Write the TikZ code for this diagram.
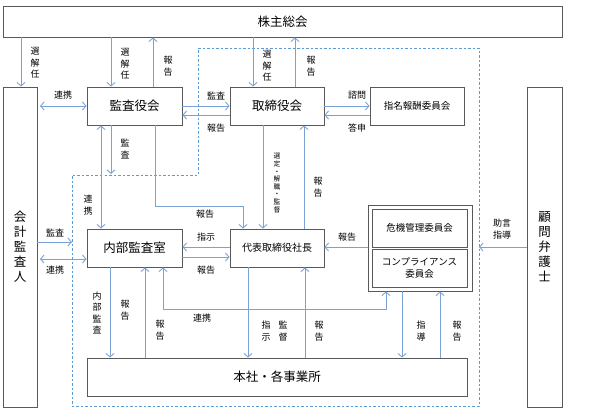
\documentclass[tikz,border=0pt]{standalone}
\usepackage{fontspec}
\setmainfont{Noto Sans CJK JP}
\usetikzlibrary{arrows.meta}
\definecolor{boxc}{HTML}{595959}
\definecolor{arrc}{HTML}{7BA2D4}
\definecolor{dashc}{HTML}{5B9BD5}
\tikzset{
  boxn/.style={draw=boxc, line width=0.9pt, rectangle, inner sep=0pt, font=\fontsize{12.5}{14}\selectfont},
  arr/.style={draw=arrc, line width=0.9pt, -{Straight Barb[length=3.5pt,width=8pt]}},
  darr/.style={draw=arrc, line width=0.9pt, {Straight Barb[length=3.5pt,width=8pt]}-{Straight Barb[length=3.5pt,width=8pt]}},
  lbl/.style={inner sep=0pt, align=center, font=\fontsize{9}{11.5}\selectfont},
  slbl/.style={inner sep=0pt, align=center, font=\fontsize{6.8}{7.6}\selectfont},
}
\begin{document}
\begin{tikzpicture}[x=1pt,y=-1pt]
\useasboundingbox[fill=white] (0,0) rectangle (599,413);
% dashed region
\draw[dashc, line width=0.8pt, dash pattern=on 2.5pt off 2pt] (198,48) -- (479,48) -- (479,406) -- (72,406) -- (72,175) -- (198,175) -- cycle;
% boxes
\node[boxn, minimum width=559pt, minimum height=31pt] (kabu) at (282.5,21.5) {株主総会};
\node[boxn, minimum width=34pt, minimum height=320pt, align=center, font=\fontsize{12.5}{15}\selectfont] (kaikei) at (20,247) {会\\計\\監\\査\\人};
\node[boxn, minimum width=95pt, minimum height=38pt] (kansa) at (134.5,106) {監査役会};
\node[boxn, minimum width=94pt, minimum height=38pt] (tori) at (277,106) {取締役会};
\node[boxn, minimum width=94pt, minimum height=38pt, font=\fontsize{9.5}{11}\selectfont] (shimei) at (417,106) {指名報酬委員会};
\node[boxn, minimum width=35pt, minimum height=320pt, align=center, font=\fontsize{12.5}{15}\selectfont] (komon) at (544.5,247) {顧\\問\\弁\\護\\士};
\node[boxn, minimum width=95pt, minimum height=38pt] (naibu) at (134.5,248) {内部監査室};
\node[boxn, minimum width=94pt, minimum height=38pt, font=\fontsize{10}{11}\selectfont] (shacho) at (277,248) {代表取締役社長};
\node[boxn, minimum width=104pt, minimum height=86pt] (iinkai) at (420,248) {};
\node[boxn, minimum width=95pt, minimum height=38pt, font=\fontsize{9.5}{11}\selectfont] (kiki) at (419.5,228) {危機管理委員会};
\node[boxn, minimum width=95pt, minimum height=38pt, align=center, font=\fontsize{9.5}{12.5}\selectfont] (comp) at (419.5,268) {コンプライアンス\\委員会};
\node[boxn, minimum width=380pt, minimum height=38pt] (honsha) at (277,377) {本社・各事業所};
% free ends on the dashed line
\coordinate (d1) at (111,174);
\coordinate (d2) at (72,242);
\coordinate (d3) at (479,247);
% arrows top
\draw[arr] (kabu.south -| 21,0) -- (kaikei.north -| 21,0);
\node[lbl] (l1) at (35,63) {選\\解\\任};
\draw[arr] (kabu.south -| 111,0) -- (kansa.north -| 111,0);
\node[lbl] (l2) at (125,64) {選\\解\\任};
\draw[arr] (kansa.north -| 153,0) -- (kabu.south -| 153,0);
\node[lbl] (l3) at (168,66) {報\\告};
\draw[darr] (40,106) -- (kansa.west |- 0,106);
\node[lbl] (l4) at (63,95) {連携};
\draw[arr] (kansa.east |- 0,106) -- (tori.west |- 0,106);
\node[lbl] (l5) at (216,96) {監査};
\draw[arr] (tori.west |- 0,115) -- (kansa.east |- 0,115);
\node[lbl] (l6) at (216,128) {報告};
\draw[arr] (kabu.south -| 253,0) -- (tori.north -| 253,0);
\node[lbl] (l7) at (267,66) {選\\解\\任};
\draw[arr] (tori.north -| 295,0) -- (kabu.south -| 295,0);
\node[lbl] (l8) at (311,66) {報\\告};
\draw[arr] (tori.east |- 0,106) -- (shimei.west |- 0,106);
\node[lbl] (l9) at (357,95) {諮問};
\draw[arr] (shimei.west |- 0,115) -- (tori.east |- 0,115);
\node[lbl] (l10) at (357,128) {答申};
% middle
\draw[darr] (kansa.south -| 101,0) -- (naibu.north -| 101,0);
\node[lbl] (l11) at (88,205) {連\\携};
\draw[arr] (kansa.south -| 111,0) -- (d1);
\node[lbl] (l12) at (125,149) {監\\査};
\draw[arr] (kansa.south -| 155,0) -- (155,206) -- (243,206) -- (shacho.north -| 243,0);
\node[lbl] (l13) at (205,214) {報告};
\draw[arr] (tori.south -| 263,0) -- (shacho.north -| 263,0);
\node[slbl] (l14) at (277,183) {選\\定\\・\\解\\職\\・\\監\\督};
\draw[arr] (shacho.north -| 304,0) -- (tori.south -| 304,0);
\node[lbl] (l15) at (318,187) {報\\告};
\draw[arr] (shacho.west |- 0,247) -- (naibu.east |- 0,247);
\node[lbl] (l16) at (206,237) {指示};
\draw[arr] (naibu.east |- 0,257) -- (shacho.west |- 0,257);
\node[lbl] (l17) at (206,270) {報告};
\draw[arr] (kaikei.east |- 0,242) -- (d2);
\node[lbl] (l18) at (55,233) {監査};
\draw[darr] (40,259) -- (naibu.west |- 0,259);
\node[lbl] (l19) at (55,270) {連携};
\draw[arr] (iinkai.west |- 0,247) -- (shacho.east |- 0,247);
\node[lbl] (l20) at (347,237) {報告};
\draw[arr] (komon.west |- 0,247) -- (d3);
\node[lbl] (l21) at (502,229) {助言\\指導};
% bottom
\draw[arr] (naibu.south -| 110,0) -- (honsha.north -| 110,0);
\node[lbl] (l22) at (97,313) {内\\部\\監\\査};
\draw[arr] (honsha.north -| 145,0) -- (naibu.south -| 145,0);
\node[lbl] (l23) at (125,310) {報\\告};
\node[lbl] (l23b) at (160,330) {報\\告};
\draw[darr] (naibu.south -| 163,0) -- (163,309) -- (386,309) -- (iinkai.south -| 386,0);
\node[lbl] (l24) at (202,318) {連携};
\draw[arr] (shacho.south -| 248,0) -- (honsha.north -| 248,0);
\node[lbl] (l25) at (266,331) {指\\示};
\node[lbl] (l25b) at (283,331) {監\\督};
\draw[arr] (honsha.north -| 305,0) -- (shacho.south -| 305,0);
\node[lbl] (l26) at (319,331) {報\\告};
\draw[arr] (iinkai.south -| 402,0) -- (honsha.north -| 402,0);
\node[lbl] (l27) at (421,331) {指\\導};
\draw[arr] (honsha.north -| 440,0) -- (iinkai.south -| 440,0);
\node[lbl] (l28) at (457,331) {報\\告};
\end{tikzpicture}
\end{document}
